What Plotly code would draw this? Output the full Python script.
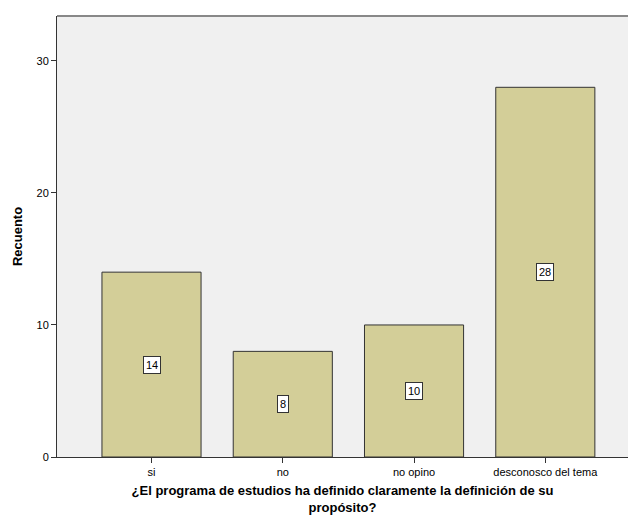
import plotly.graph_objects as go

categories = ["si", "no", "no opino", "desconosco del tema"]
counts = [14, 8, 10, 28]
y_ticks = [0, 10, 20, 30]

fig = go.Figure()
fig.add_trace(go.Bar(
    x=categories, y=counts, width=0.755,
    marker=dict(color="#D3CE98", line=dict(color="#333333", width=1)),
    hoverinfo="skip",
))

for c, v in zip(categories, counts):
    fig.add_annotation(
        x=c, y=v / 2, text=str(v), showarrow=False,
        font=dict(family="Liberation Sans, Arial", size=11, color="#000"),
        bgcolor="white", bordercolor="#333333", borderwidth=1, borderpad=2,
    )

fig.update_layout(
    width=628, height=518,
    margin=dict(l=57, r=0, t=16, b=61),
    paper_bgcolor="white", plot_bgcolor="#F0F0F0",
    showlegend=False,
    font=dict(family="Liberation Sans, Arial", size=11, color="#000"),
    xaxis=dict(
        range=[-0.72, 3.63], showgrid=False, zeroline=False,
        showline=True, linecolor="#333333", linewidth=1,
        ticks="outside", ticklen=5, tickcolor="#333333",
        tickfont=dict(size=11),
        title=dict(text="<b>¿El programa de estudios ha definido claramente la definición de su<br>propósito?</b>",
                   font=dict(size=13), standoff=8),
    ),
    yaxis=dict(
        range=[0, 33.4], tickvals=y_ticks, showgrid=False, zeroline=False,
        showline=True, linecolor="#333333", linewidth=1,
        ticks="outside", ticklen=5, tickcolor="#333333",
        tickfont=dict(size=11),
        title=dict(text="<b>Recuento</b>", font=dict(size=13), standoff=10),
    ),
)
fig.add_shape(type="line", xref="paper", yref="paper", x0=0, x1=1, y0=1, y1=1,
              line=dict(color="#888888", width=2))

fig.write_html("out.html", config={"displayModeBar": False},
               post_script="document.body.style.margin='0';document.body.style.overflow='hidden';")
